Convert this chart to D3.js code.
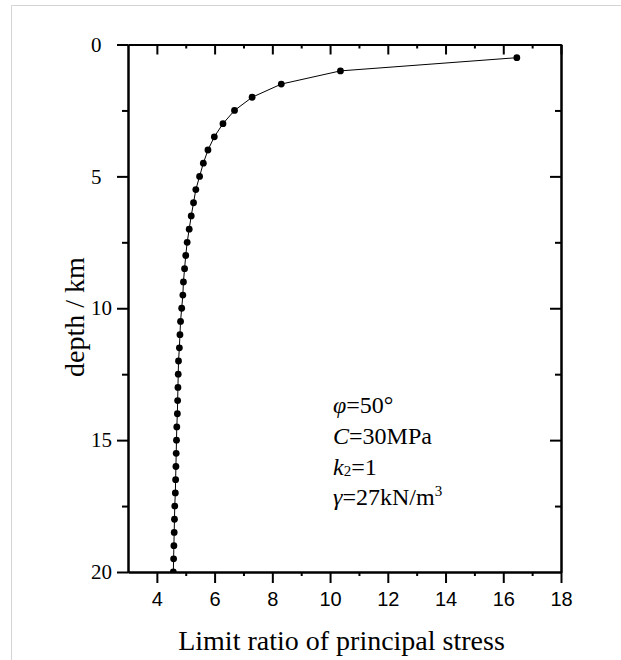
<!DOCTYPE html>
<html>
<head>
<meta charset="utf-8">
<script src="https://cdn.jsdelivr.net/npm/d3@7/dist/d3.min.js"></script>
<style>
  html, body { margin: 0; padding: 0; background: #fff; }
  svg { display: block; }
</style>
</head>
<body>
<svg id="chart" width="621" height="660"></svg>
<script>
// Depth (km) and limit ratio of principal stress at each depth
const depthKm = [0.5, 1.0, 1.5, 2.0, 2.5, 3.0, 3.5, 4.0, 4.5, 5.0,
                 5.5, 6.0, 6.5, 7.0, 7.5, 8.0, 8.5, 9.0, 9.5, 10.0,
                 10.5, 11.0, 11.5, 12.0, 12.5, 13.0, 13.5, 14.0, 14.5, 15.0,
                 15.5, 16.0, 16.5, 17.0, 17.5, 18.0, 18.5, 19.0, 19.5, 20.0];
const limitRatio = [16.47, 10.36, 8.31, 7.30, 6.69, 6.29, 5.99, 5.77, 5.61, 5.48,
                    5.35, 5.27, 5.19, 5.12, 5.05, 5.00, 4.96, 4.92, 4.90, 4.86,
                    4.82, 4.80, 4.78, 4.75, 4.74, 4.73, 4.72, 4.71, 4.69, 4.68,
                    4.67, 4.66, 4.65, 4.64, 4.62, 4.61, 4.60, 4.59, 4.58, 4.57];

// Tick values
const xMajorTicks = [4, 6, 8, 10, 12, 14, 16, 18];
const xMinorTicks = [5, 7, 9, 11, 13, 15, 17];
const yMajorTicks = [0, 5, 10, 15, 20];
const yMinorTicks = [2.5, 7.5, 12.5, 17.5];

(function drawChart() {
  const svg = d3.select("#chart");
  const serif = "'Liberation Serif', 'Times New Roman', serif";
  const sans = "'Liberation Sans', Arial, sans-serif";

  // Light page frame
  svg.append("path")
    .attr("d", "M11.5,660 L11.5,5.5 L621,5.5")
    .attr("fill", "none")
    .attr("stroke", "#d4d4d4")
    .attr("stroke-width", 1);

  const pLeft = 128, pRight = 561, pTop = 44.5, pBottom = 572;

  const x = d3.scaleLinear().domain([3, 18]).range([pLeft, pRight]);
  const y = d3.scaleLinear().domain([0, 20]).range([pTop, pBottom]);

  function styleAxis(g) {
    g.selectAll("path.domain").attr("stroke", "#000").attr("stroke-width", 2);
    g.selectAll(".tick line").attr("stroke", "#000").attr("stroke-width", 2);
  }

  // Clip for the data
  svg.append("defs").append("clipPath").attr("id", "plotClip")
    .append("rect").attr("x", pLeft).attr("y", pTop)
    .attr("width", pRight - pLeft).attr("height", pBottom - pTop);

  const points = depthKm.map((d, i) => ({ depth: d, ratio: limitRatio[i] }));

  const plot = svg.append("g").attr("clip-path", "url(#plotClip)");

  plot.append("path")
    .datum(points)
    .attr("fill", "none")
    .attr("stroke", "#000")
    .attr("stroke-width", 1)
    .attr("d", d3.line().x(d => x(d.ratio)).y(d => y(d.depth)));

  plot.selectAll("circle")
    .data(points)
    .join("circle")
    .attr("cx", d => x(d.ratio))
    .attr("cy", d => y(d.depth))
    .attr("r", 3.4)
    .attr("fill", "#000");

  // Bottom axis: major with labels, minor shorter
  const gBottomMinor = svg.append("g").attr("transform", `translate(0,${pBottom})`)
    .call(d3.axisBottom(x).tickValues(xMinorTicks).tickSize(4).tickSizeOuter(0).tickFormat(""));
  styleAxis(gBottomMinor);
  const gBottom = svg.append("g").attr("transform", `translate(0,${pBottom})`)
    .call(d3.axisBottom(x).tickValues(xMajorTicks).tickSize(11).tickSizeOuter(0).tickPadding(9));
  styleAxis(gBottom);
  gBottom.selectAll("text")
    .attr("font-family", sans)
    .attr("font-size", 20)
    .attr("fill", "#000");

  // Top axis: ticks pointing into the plot
  const gTopMinor = svg.append("g").attr("transform", `translate(0,${pTop})`)
    .call(d3.axisBottom(x).tickValues(xMinorTicks).tickSize(4).tickSizeOuter(0).tickFormat(""));
  styleAxis(gTopMinor);
  const gTop = svg.append("g").attr("transform", `translate(0,${pTop})`)
    .call(d3.axisBottom(x).tickValues(xMajorTicks).tickSize(10).tickSizeOuter(0).tickFormat(""));
  styleAxis(gTop);

  // Right axis: ticks pointing into the plot
  const gRightMinor = svg.append("g").attr("transform", `translate(${pRight},0)`)
    .call(d3.axisLeft(y).tickValues(yMinorTicks).tickSize(6).tickSizeOuter(0).tickFormat(""));
  styleAxis(gRightMinor);
  const gRight = svg.append("g").attr("transform", `translate(${pRight},0)`)
    .call(d3.axisLeft(y).tickValues(yMajorTicks.slice(1, -1)).tickSize(11).tickSizeOuter(0).tickFormat(""));
  styleAxis(gRight);

  // Left axis: major with labels, minor shorter
  const gLeftMinor = svg.append("g").attr("transform", `translate(${pLeft},0)`)
    .call(d3.axisLeft(y).tickValues(yMinorTicks).tickSize(6).tickSizeOuter(0).tickFormat(""));
  styleAxis(gLeftMinor);
  const gLeft = svg.append("g").attr("transform", `translate(${pLeft},0)`)
    .call(d3.axisLeft(y).tickValues(yMajorTicks).tickSize(11).tickSizeOuter(0));
  styleAxis(gLeft);
  gLeft.selectAll("text")
    .attr("x", 91 - pLeft)
    .attr("text-anchor", "start")
    .attr("font-family", serif)
    .attr("font-size", 21)
    .attr("fill", "#000");

  // Axis titles
  svg.append("text")
    .attr("x", (pLeft + pRight) / 2 - 3)
    .attr("y", 650)
    .attr("text-anchor", "middle")
    .attr("font-family", serif)
    .attr("font-size", 28)
    .attr("fill", "#000")
    .text("Limit ratio of principal stress");

  svg.append("text")
    .attr("transform", "translate(84,317) rotate(-90)")
    .attr("text-anchor", "middle")
    .attr("font-family", serif)
    .attr("font-size", 28)
    .attr("fill", "#000")
    .text("depth / km");

  // Parameter annotation
  const note = svg.append("g")
    .attr("font-family", serif)
    .attr("font-size", 24)
    .attr("fill", "#000");

  const l1 = note.append("text").attr("x", 333).attr("y", 413);
  l1.append("tspan").attr("font-style", "italic").text("φ");
  l1.append("tspan").text("=50°");

  const l2 = note.append("text").attr("x", 333).attr("y", 444);
  l2.append("tspan").attr("font-style", "italic").text("C");
  l2.append("tspan").text("=30MPa");

  const l3 = note.append("text").attr("x", 333).attr("y", 475);
  l3.append("tspan").attr("font-style", "italic").text("k");
  l3.append("tspan").attr("font-size", 15).attr("dy", 1).text("2");
  l3.append("tspan").attr("dy", -1).text("=1");

  const l4 = note.append("text").attr("x", 333).attr("y", 505);
  l4.append("tspan").attr("font-style", "italic").text("γ");
  l4.append("tspan").text("=27kN/m");
  l4.append("tspan").attr("font-size", 15).attr("dy", -9).text("3");
})();
</script>
</body>
</html>
